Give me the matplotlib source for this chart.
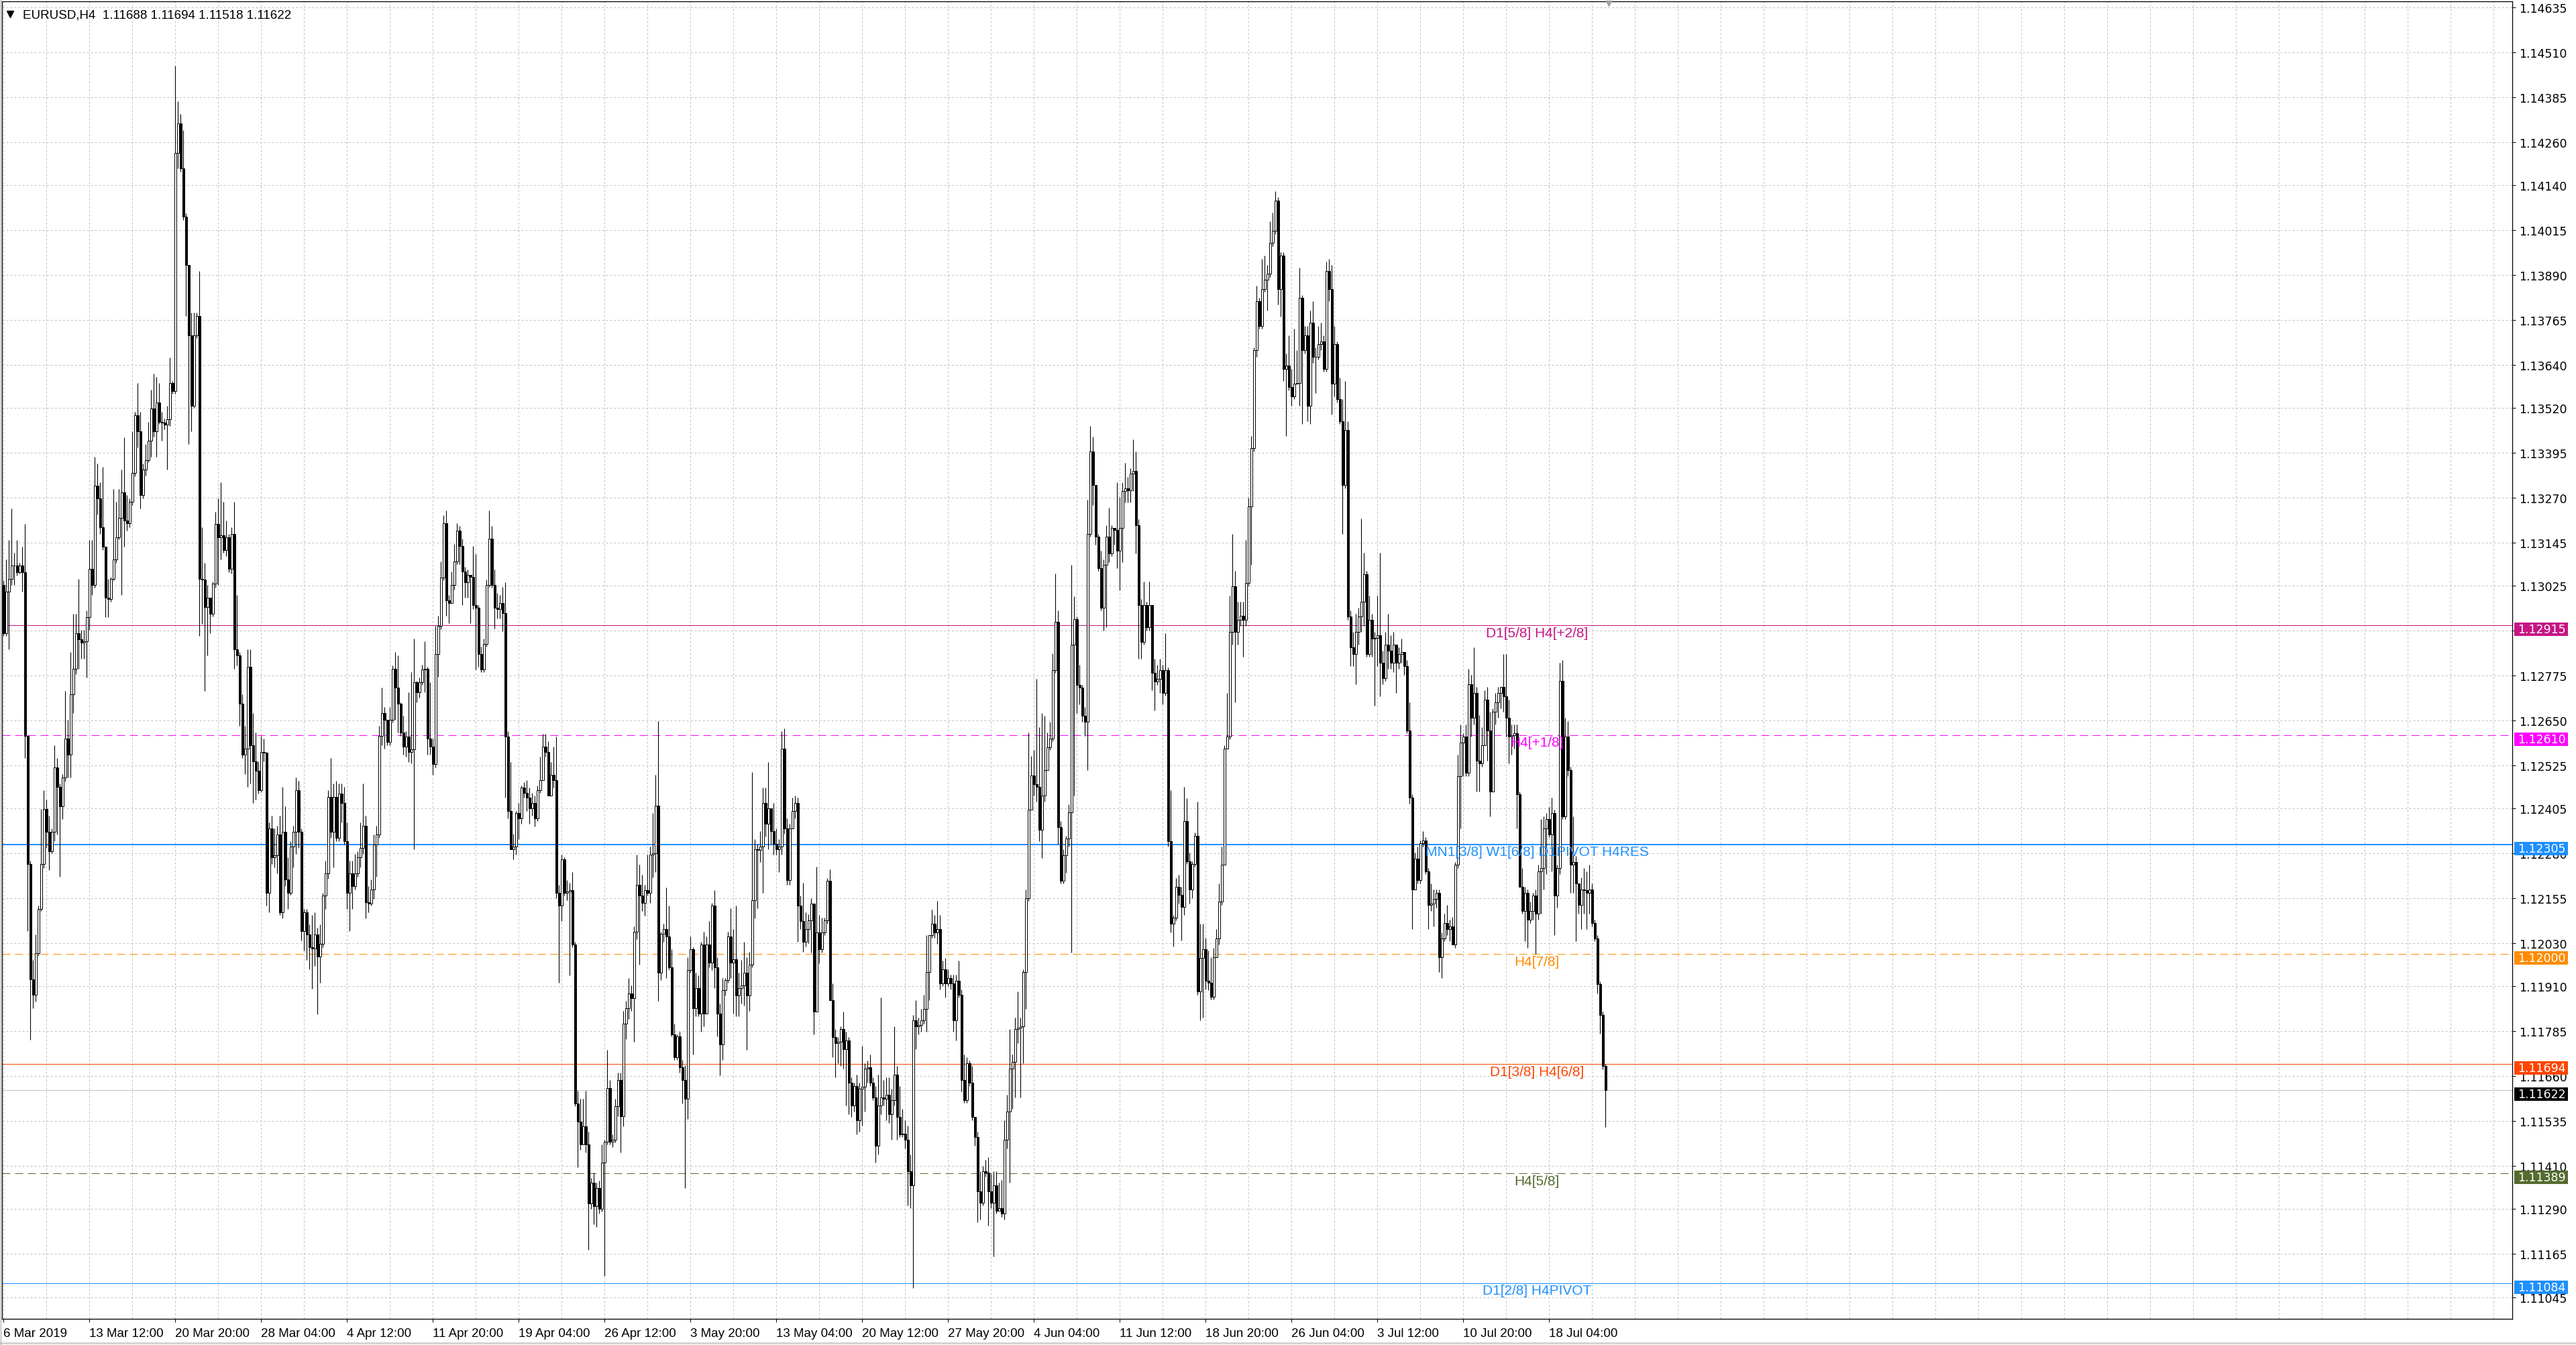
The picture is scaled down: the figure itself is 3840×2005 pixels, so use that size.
import numpy as np
import matplotlib
matplotlib.use("Agg")
import matplotlib.pyplot as plt
from matplotlib.patches import Rectangle
from matplotlib.lines import Line2D
from matplotlib.transforms import blended_transform_factory

# EURUSD H4 candles. Prices are in points above 1.10000 (1 point = 0.00001).
# Open of each bar = close of the previous bar.
first_open = 3027
close_pts = [
    2894, 3009, 3045, 3081, 3081, 3063, 3081, 3063, 2608, 2251, 1930, 1886, 2002, 2126, 2251, 2403,
    2340, 2287, 2340, 2519, 2465, 2412, 2492, 2599, 2555, 2724, 2795, 2894, 2876, 2867, 2870, 2938,
    3072, 3027, 3304, 3268, 3188, 3134, 2992, 2988, 3045, 3099, 3161, 3215, 3286, 3206, 3200, 3259,
    3340, 3500, 3455, 3277, 3348, 3375, 3429, 3518, 3455, 3536, 3482, 3480, 3473, 3488, 3589, 3568,
    4231, 4312, 4187, 4053, 3919, 3723, 3527, 3723, 3777, 3045, 3042, 2965, 2992, 2947, 3031, 3197,
    3161, 3165, 3125, 3161, 3072, 3170, 2849, 2831, 2697, 2555, 2572, 2799, 2581, 2537, 2510, 2456,
    2563, 2560, 2171, 2349, 2269, 2275, 2332, 2117, 2340, 2207, 2171, 2299, 2340, 2456, 2340, 2064,
    2117, 2055, 2019, 2015, 2055, 1993, 2028, 2162, 2224, 2438, 2340, 2438, 2323, 2447, 2421, 2314,
    2171, 2224, 2189, 2224, 2269, 2296, 2358, 2144, 2140, 2180, 2305, 2332, 2608, 2670, 2653, 2590,
    2653, 2795, 2742, 2697, 2617, 2578, 2606, 2563, 2570, 2756, 2728, 2756, 2792, 2795, 2599, 2578,
    2528, 2835, 2913, 3049, 3199, 2985, 2978, 3028, 3092, 3178, 3135, 3064, 3035, 3056, 3050, 2971,
    2964, 2835, 2792, 2863, 3028, 3157, 3028, 2964, 2960, 2978, 2949, 2606, 2399, 2292, 2300, 2392,
    2377, 2463, 2449, 2435, 2406, 2420, 2377, 2456, 2485, 2578, 2563, 2442, 2499, 2485, 2170, 2134,
    2263, 2170, 2175, 2177, 2027, 1584, 1534, 1470, 1520, 1470, 1306, 1363, 1298, 1348, 1291, 1420,
    1477, 1627, 1477, 1484, 1577, 1649, 1549, 1806, 1849, 1891, 1877, 2063, 2192, 2163, 2142, 2177,
    2170, 2277, 2280, 2413, 1949, 2056, 2070, 2049, 1963, 1777, 1713, 1770, 1684, 1649, 1598, 1956,
    2013, 1849, 1906, 1834, 2027, 1834, 2027, 1977, 2134, 1963, 1834, 1749, 1899, 1927, 2049, 1977,
    1985, 1884, 1906, 1913, 1949, 1884, 1970, 2149, 2292, 2290, 2299, 2420, 2363, 2406, 2342, 2306,
    2292, 2299, 2571, 2349, 2206, 2349, 2399, 2420, 2134, 2092, 2034, 2069, 2093, 2140, 1839, 2061,
    2013, 2061, 2093, 2204, 1871, 1768, 1752, 1755, 1792, 1736, 1760, 1641, 1578, 1633, 1538, 1625,
    1630, 1681, 1685, 1641, 1601, 1467, 1578, 1601, 1598, 1609, 1554, 1594, 1665, 1546, 1498, 1500,
    1483, 1395, 1356, 1815, 1799, 1803, 1815, 1847, 1950, 2053, 2085, 2061, 2069, 1918, 1958, 1918,
    1934, 1918, 1815, 1926, 1887, 1649, 1594, 1696, 1641, 1546, 1491, 1340, 1308, 1395, 1392, 1340,
    1308, 1356, 1285, 1292, 1277, 1483, 1562, 1681, 1700, 1792, 1795, 1799, 1950, 2156, 2402, 2497,
    2473, 2465, 2346, 2441, 2513, 2576, 2600, 2790, 2925, 2354, 2204, 2275, 2322, 2394, 2861, 2933,
    2750, 2742, 2663, 2647, 3170, 3400, 3305, 3162, 3075, 2964, 3083, 3162, 3115, 3186, 3180, 3123,
    3186, 3289, 3297, 3290, 3337, 3345, 3194, 2972, 2869, 2972, 2909, 2972, 2782, 2758, 2766, 2790,
    2726, 2790, 2314, 2085, 2101, 2188, 2164, 2132, 2370, 2259, 2180, 2251, 2330, 1895, 1990, 2013,
    1926, 1920, 1881, 1992, 2043, 2146, 2248, 2572, 2606, 2896, 3024, 2896, 2930, 2942, 2930, 3033,
    3246, 3408, 3681, 3817, 3749, 3851, 3877, 3894, 3979, 4013, 4098, 3851, 3945, 3629, 3638, 3578,
    3553, 3587, 3590, 3826, 3681, 3723, 3527, 3757, 3663, 3663, 3698, 3706, 3629, 3902, 3851, 3587,
    3698, 3544, 3484, 3305, 3459, 2939, 2853, 2836, 2896, 2939, 2981, 3058, 2836, 2930, 2879, 2880,
    2888, 2811, 2768, 2862, 2845, 2811, 2862, 2811, 2836, 2840, 2802, 2623, 2436, 2180, 2265, 2205,
    2308, 2316, 2231, 2137, 2140, 2154, 2171, 1992, 2043, 2086, 2069, 2077, 2026, 2248, 2495, 2589,
    2606, 2504, 2751, 2657, 2726, 2538, 2530, 2581, 2709, 2623, 2453, 2674, 2700, 2726, 2743, 2717,
    2657, 2606, 2610, 2615, 2444, 2188, 2120, 2171, 2095, 2120, 2163, 2112, 2231, 2240, 2350, 2376,
    2333, 2393, 2163, 2240, 2760, 2384, 2606, 2512, 2248, 2257, 2197, 2137, 2180, 2178, 2171, 2180,
    2086, 2043, 1916, 1830, 1688, 1622,
]
high_pts = [
    3040, 3099, 3152, 3241, 3117, 3152, 3090, 3134, 3197, 2610, 2260, 1984, 2055, 2135, 2403, 2456,
    2430, 2385, 2349, 2581, 2546, 2474, 2501, 2733, 2653, 2840, 2947, 2947, 3045, 2903, 2903, 2956,
    3152, 3152, 3384, 3366, 3313, 3357, 3134, 3045, 3050, 3295, 3259, 3295, 3348, 3438, 3277, 3268,
    3455, 3509, 3589, 3509, 3366, 3420, 3482, 3571, 3616, 3607, 3589, 3509, 3490, 3527, 3661, 3595,
    4472, 4374, 4339, 4294, 4062, 3919, 3785, 3785, 3785, 3901, 3188, 3090, 3027, 2992, 3036, 3232,
    3268, 3313, 3259, 3206, 3170, 3188, 3259, 3000, 2840, 2724, 2635, 2849, 2849, 2670, 2617, 2537,
    2608, 2599, 2563, 2367, 2385, 2349, 2358, 2385, 2465, 2412, 2269, 2314, 2358, 2492, 2483, 2349,
    2126, 2126, 2082, 2108, 2117, 2073, 2082, 2171, 2260, 2456, 2546, 2474, 2483, 2474, 2474, 2465,
    2367, 2260, 2260, 2278, 2287, 2367, 2474, 2385, 2189, 2207, 2332, 2358, 2635, 2742, 2688, 2653,
    2688, 2804, 2840, 2831, 2700, 2663, 2620, 2728, 2785, 2878, 2760, 2770, 2806, 2871, 2800, 2756,
    2599, 2913, 2942, 3092, 3221, 3235, 3000, 3064, 3142, 3199, 3192, 3157, 3078, 3071, 3056, 3135,
    3114, 2971, 2856, 2878, 3042, 3235, 3192, 3071, 3006, 3000, 3021, 3035, 2620, 2535, 2335, 2399,
    2420, 2470, 2478, 2485, 2463, 2449, 2442, 2470, 2549, 2613, 2613, 2592, 2535, 2578, 2606, 2192,
    2277, 2270, 2206, 2199, 2228, 2034, 1620, 1598, 1598, 1620, 1506, 1377, 1391, 1363, 1370, 1470,
    1484, 1734, 1649, 1499, 1598, 1670, 1670, 1841, 1870, 1934, 1913, 2077, 2277, 2249, 2220, 2192,
    2277, 2299, 2392, 2499, 2649, 2063, 2085, 2185, 2134, 2013, 1806, 1777, 1784, 1706, 1691, 1991,
    2049, 2020, 1949, 1941, 2034, 2063, 2049, 2092, 2142, 2177, 1991, 1863, 1934, 1934, 2063, 2127,
    2070, 2134, 1949, 1984, 2034, 1991, 2006, 2506, 2320, 2306, 2342, 2463, 2463, 2535, 2392, 2420,
    2349, 2320, 2620, 2627, 2377, 2363, 2435, 2442, 2435, 2163, 2199, 2116, 2110, 2156, 2140, 2243,
    2108, 2101, 2101, 2212, 2235, 1918, 1792, 1768, 1799, 1839, 1784, 1768, 1657, 1641, 1665, 1641,
    1744, 1696, 1704, 1720, 1657, 1633, 1665, 1879, 1649, 1657, 1657, 1625, 1799, 1689, 1633, 1570,
    1538, 1522, 1443, 1831, 1871, 1823, 1847, 1887, 2053, 2053, 2124, 2108, 2148, 2108, 1982, 1990,
    1958, 1942, 1942, 1942, 1982, 1902, 1720, 1712, 1704, 1689, 1546, 1506, 1395, 1411, 1427, 1435,
    1388, 1395, 1395, 1364, 1372, 1538, 1609, 1792, 1720, 1823, 1895, 1823, 1958, 2180, 2616, 2552,
    2568, 2766, 2631, 2671, 2663, 2616, 2647, 2837, 3059, 2956, 2370, 2291, 2330, 2417, 3083, 2996,
    2940, 2806, 2750, 2687, 3265, 3471, 3440, 3265, 3170, 3123, 3099, 3194, 3242, 3194, 3186, 3313,
    3273, 3313, 3368, 3329, 3352, 3432, 3400, 3210, 2988, 3036, 2980, 3036, 2964, 2822, 2806, 2822,
    2806, 2893, 2798, 2457, 2108, 2212, 2220, 2188, 2465, 2433, 2283, 2259, 2338, 2425, 2085, 2085,
    2045, 2010, 1992, 2018, 2069, 2197, 2299, 2581, 2726, 2998, 3169, 3067, 2981, 2981, 2981, 3152,
    3271, 3442, 3689, 3860, 3826, 3936, 3945, 3919, 4039, 4064, 4124, 4107, 3953, 3953, 3672, 3723,
    3629, 3740, 3681, 3911, 3834, 3749, 3749, 3791, 3817, 3689, 3749, 3757, 3723, 3928, 3936, 3919,
    3749, 3706, 3604, 3544, 3595, 3484, 2956, 2896, 2947, 2964, 3212, 3118, 3067, 2998, 2947, 2896,
    2998, 3118, 2845, 2896, 2947, 2888, 2896, 2845, 2853, 2879, 2836, 2819, 2700, 2444, 2282, 2299,
    2316, 2342, 2325, 2240, 2197, 2180, 2180, 2180, 2060, 2112, 2137, 2095, 2103, 2257, 2555, 2640,
    2615, 2640, 2794, 2777, 2853, 2743, 2666, 2632, 2734, 2743, 2674, 2683, 2726, 2743, 2743, 2836,
    2836, 2709, 2640, 2640, 2640, 2453, 2240, 2188, 2180, 2146, 2171, 2180, 2248, 2376, 2384, 2393,
    2410, 2436, 2402, 2248, 2811, 2819, 2657, 2649, 2521, 2384, 2274, 2197, 2214, 2240, 2231, 2248,
    2197, 2095, 2052, 1924, 1839, 1694,
]
low_pts = [
    2885, 2885, 2849, 3027, 3027, 3054, 3060, 3009, 2546, 2064, 1761, 1850, 1868, 1995, 2120, 2240,
    2296, 2233, 2280, 2314, 2332, 2216, 2376, 2480, 2492, 2492, 2670, 2780, 2795, 2822, 2822, 2769,
    2903, 3000, 3020, 3224, 3170, 3125, 2938, 2938, 2980, 3040, 3090, 3155, 3000, 3134, 3179, 3188,
    3250, 3330, 3411, 3241, 3268, 3331, 3370, 3384, 3440, 3384, 3475, 3429, 3460, 3348, 3470, 3560,
    3560, 4187, 4178, 4044, 3777, 3420, 3455, 3520, 3714, 2885, 2920, 2733, 2831, 2894, 2940, 3020,
    3027, 3099, 3117, 3108, 3063, 3060, 2795, 2804, 2635, 2546, 2501, 2465, 2474, 2421, 2430, 2447,
    2450, 2537, 2135, 2117, 2251, 2242, 2224, 2108, 2100, 2189, 2126, 2165, 2242, 2278, 2296, 2037,
    2010, 1984, 1957, 1903, 1966, 1832, 1921, 2020, 2126, 2210, 2323, 2242, 2314, 2315, 2367, 2305,
    2126, 2064, 2126, 2180, 2215, 2242, 2278, 2100, 2117, 2135, 2153, 2216, 2323, 2581, 2572, 2581,
    2581, 2645, 2653, 2617, 2608, 2556, 2549, 2535, 2530, 2292, 2700, 2713, 2750, 2728, 2556, 2556,
    2499, 2520, 2771, 2905, 3040, 2942, 2921, 2985, 3014, 3085, 3085, 2971, 2992, 2992, 2921, 2960,
    2792, 2799, 2785, 2785, 2855, 3021, 3020, 2906, 2935, 2935, 2899, 2435, 2377, 2292, 2263, 2277,
    2320, 2363, 2435, 2399, 2363, 2385, 2356, 2370, 2449, 2485, 2549, 2442, 2442, 2463, 2156, 1920,
    2092, 2163, 2149, 1941, 2020, 1577, 1406, 1456, 1491, 1448, 1177, 1291, 1248, 1241, 1277, 1284,
    1105, 1470, 1470, 1463, 1475, 1549, 1448, 1520, 1763, 1820, 1841, 1756, 2042, 1970, 2120, 2106,
    2163, 2142, 2213, 2228, 1870, 1927, 2034, 1934, 1956, 1770, 1706, 1706, 1670, 1584, 1348, 1541,
    1949, 1720, 1827, 1827, 1784, 1799, 1860, 1963, 1956, 1906, 1770, 1663, 1706, 1884, 1920, 1934,
    1834, 1827, 1827, 1863, 1856, 1734, 1841, 1963, 2099, 2127, 2256, 2170, 2327, 2292, 2306, 2277,
    2277, 2228, 2277, 2335, 2192, 2192, 2349, 2377, 2034, 2070, 2006, 2021, 2030, 2005, 1776, 1839,
    1974, 2005, 2053, 2085, 1871, 1712, 1657, 1696, 1689, 1681, 1578, 1554, 1546, 1562, 1498, 1506,
    1522, 1562, 1641, 1633, 1594, 1419, 1443, 1554, 1578, 1538, 1530, 1483, 1578, 1483, 1491, 1491,
    1459, 1300, 1292, 1071, 1736, 1776, 1784, 1807, 1784, 1871, 2045, 2045, 2029, 1902, 1910, 1879,
    1910, 1902, 1784, 1760, 1879, 1617, 1586, 1586, 1633, 1538, 1467, 1253, 1261, 1300, 1380, 1245,
    1292, 1158, 1277, 1285, 1269, 1261, 1459, 1364, 1570, 1601, 1752, 1601, 1696, 1847, 2148, 2409,
    2441, 2425, 2315, 2267, 2425, 2513, 2568, 2592, 2782, 2307, 2196, 2196, 2227, 2299, 2005, 2441,
    2671, 2695, 2647, 2608, 2513, 3162, 3249, 3139, 3067, 2956, 2901, 2909, 3091, 3107, 3139, 3075,
    3012, 3091, 3257, 3257, 3257, 3289, 3115, 2822, 2822, 2861, 2901, 2901, 2734, 2679, 2750, 2726,
    2695, 2719, 2299, 2061, 2021, 2093, 2140, 2037, 2108, 2251, 2140, 2156, 2243, 1887, 1815, 1823,
    1902, 1900, 1873, 1873, 1992, 2026, 2137, 2248, 2572, 2598, 2862, 2700, 2862, 2913, 2828, 2913,
    3024, 3084, 3399, 3663, 3740, 3740, 3843, 3791, 3885, 3970, 4004, 3808, 3774, 3595, 3442, 3570,
    3527, 3544, 3587, 3527, 3476, 3672, 3484, 3476, 3646, 3561, 3655, 3681, 3621, 3621, 3817, 3501,
    3553, 3536, 3476, 3169, 3297, 2930, 2802, 2802, 2751, 2862, 2896, 2913, 2828, 2828, 2828, 2692,
    2802, 2717, 2751, 2760, 2794, 2794, 2785, 2726, 2794, 2811, 2777, 2615, 2419, 2069, 2180, 2197,
    2197, 2299, 2223, 2069, 2120, 2077, 2129, 1950, 1933, 2035, 2052, 2035, 2026, 2018, 2240, 2350,
    2495, 2495, 2495, 2606, 2640, 2453, 2453, 2521, 2581, 2538, 2384, 2453, 2640, 2657, 2683, 2674,
    2606, 2530, 2555, 2572, 2350, 2188, 2112, 2035, 2018, 2086, 2095, 2001, 2095, 2112, 2180, 2223,
    2325, 2231, 2052, 2129, 2223, 2376, 2376, 2495, 2171, 2171, 2035, 2112, 2069, 2112, 2069, 2112,
    2077, 2035, 1890, 1779, 1680, 1518,
]
assert len(close_pts) == len(high_pts) == len(low_pts)

price_ticks = [1.14635, 1.14510, 1.14385, 1.14260, 1.14140, 1.14015, 1.13890, 1.13765,
               1.13640, 1.13520, 1.13395, 1.13270, 1.13145, 1.13025, 1.12900, 1.12775,
               1.12650, 1.12525, 1.12405, 1.12280, 1.12155, 1.12030, 1.11910, 1.11785,
               1.11660, 1.11535, 1.11410, 1.11290, 1.11165, 1.11045]
hidden_ticks = [1.12900]      # covered completely by a price box in the original

date_labels = ['6 Mar 2019', '13 Mar 12:00', '20 Mar 20:00', '28 Mar 04:00', '4 Apr 12:00',
               '11 Apr 20:00', '19 Apr 04:00', '26 Apr 12:00', '3 May 20:00', '13 May 04:00',
               '20 May 12:00', '27 May 20:00', '4 Jun 04:00', '11 Jun 12:00', '18 Jun 20:00',
               '26 Jun 04:00', '3 Jul 12:00', '10 Jul 20:00', '18 Jul 04:00']
bars_per_label = 32

# Murrey/pivot levels drawn as horizontal lines
level_prices = [1.12915, 1.12610, 1.12305, 1.12000, 1.11694, 1.11389, 1.11084]
level_names = ['D1[5/8] H4[+2/8]', 'H4[+1/8]', 'MN1[3/8] W1[6/8] D1PIVOT H4RES', 'H4[7/8]',
               'D1[3/8] H4[6/8]', 'H4[5/8]', 'D1[2/8] H4PIVOT']
level_colors = ['#C71585', '#FF00FF', '#1E90FF', '#FF8C00', '#FF4500', '#556B2F', '#1E90FF']
level_dashed = [False, True, False, True, False, True, False]
level_widths = [1, 1, 2, 1, 1, 1, 1]

bid_price = 1.11622
title = 'EURUSD,H4  1.11688 1.11694 1.11518 1.11622'

# ---------------------------------------------------------------------------
W_PX, H_PX = 3840, 2006
PX = 0.72                     # one pixel in points at dpi 100
PPX = 1 / 53550               # price per pixel on the chart

c = 1.1 + np.array(close_pts) / 1e5
h = 1.1 + np.array(high_pts) / 1e5
l = 1.1 + np.array(low_pts) / 1e5
o = np.r_[1.1 + first_open / 1e5, c[:-1]]
h = np.maximum(h, np.maximum(o, c))
l = np.minimum(l, np.minimum(o, c))
x = np.arange(len(c))

fig = plt.figure(figsize=(W_PX / 100, H_PX / 100), dpi=100)
fig.patch.set_facecolor('white')
ax_left, ax_right, ax_top, ax_bot = 3, 3745, 3, 1967
ax = fig.add_axes([ax_left / W_PX, 1 - ax_bot / H_PX,
                   (ax_right - ax_left) / W_PX, (ax_bot - ax_top) / H_PX])
ax.set_xlim(-0.6, (ax_right - 5.5) / 4)
ax.set_ylim(1.14635 - (ax_bot - 12.2) * PPX, 1.14635 + (12.2 - ax_top) * PPX)

# grid
for p in price_ticks:
    ax.axhline(p, color='#C0C0C0', lw=PX, ls=(0, (3, 3)), zorder=1)
for k in range(0, 935, 16):
    ax.axvline(k, color='#C0C0C0', lw=PX, ls=(0, (3, 3)), zorder=1)

# level lines and their captions
for p, name, col, dashed, lw in zip(level_prices, level_names, level_colors,
                                     level_dashed, level_widths):
    ax.axhline(p, color=col, lw=lw * PX, ls=(0, (12, 7)) if dashed else '-', zorder=2)
    ax.text(571.4, p - 11 * PPX, name, color=col, fontsize=15, family='Liberation Sans',
            ha='center', va='center', zorder=6)
ax.axhline(bid_price, color='#C0C0C0', lw=PX, zorder=2)

# candles
ax.vlines(x, l, h, color='black', lw=PX * 1.1, zorder=3)
up = c >= o
ax.bar(x[up], (c - o)[up], bottom=o[up], width=0.55, facecolor='white',
       edgecolor='black', lw=PX, zorder=4)
ax.bar(x[~up], (o - c)[~up], bottom=c[~up], width=0.55, facecolor='black',
       edgecolor='black', lw=PX, zorder=4)

# axes cosmetics
for s in ax.spines.values():
    s.set_color('black')
    s.set_linewidth(PX * 1.3)
ax.yaxis.tick_right()
ax.set_yticks(price_ticks)
ax.set_yticklabels(['' if p in hidden_ticks else f'{p:.5f}' for p in price_ticks])
ax.tick_params(axis='y', length=5 * PX, width=PX, pad=4, labelsize=12.5,
               colors='black')
ax.set_xticks(np.arange(len(date_labels)) * bars_per_label)
ax.set_xticklabels(date_labels, ha='left', fontsize=13.5, family='Liberation Sans')
ax.tick_params(axis='x', length=5 * PX, width=PX, pad=6)
ax.yaxis.set_tick_params(which='both', right=True, left=False)

# price boxes on the right scale (drawn a few pixels below their line, as MT4 does)
trans = blended_transform_factory(fig.transFigure, ax.transData)
box_prices = level_prices + [bid_price]
box_colors = level_colors + ['black']
for p, col in zip(box_prices, box_colors):
    yc = p - 6 * PPX
    ax.add_patch(Rectangle((3748 / W_PX, yc - 10 * PPX), 80 / W_PX, 20 * PPX,
                           transform=trans, facecolor=col, edgecolor='none',
                           clip_on=False, zorder=10))
    ax.text(3753 / W_PX, yc, f'{p:.5f}', transform=trans, color='white', fontsize=12.5,
            ha='left', va='center', clip_on=False, zorder=11)

# header and small markers
fig.text(34 / W_PX, 1 - 23 / H_PX, title, fontsize=13.5, family='Liberation Sans',
         ha='left', va='center')
fig.add_artist(Line2D([15 / W_PX], [1 - 22 / H_PX], marker='v', markersize=7,
                      color='black', transform=fig.transFigure))
fig.add_artist(Line2D([2398 / W_PX], [1 - 6 / H_PX], marker='v', markersize=6,
                      color='#A0A0A0', transform=fig.transFigure))
fig.add_artist(Line2D([0, 1], [1 - 2003 / H_PX] * 2, color='#D4D4D4', lw=3 * PX,
                      transform=fig.transFigure))
fig.add_artist(Line2D([0.5 / W_PX] * 2, [0, 1], color='#A0A0A0', lw=PX,
                      transform=fig.transFigure))

fig.savefig('out.png', dpi=100, facecolor='white')
